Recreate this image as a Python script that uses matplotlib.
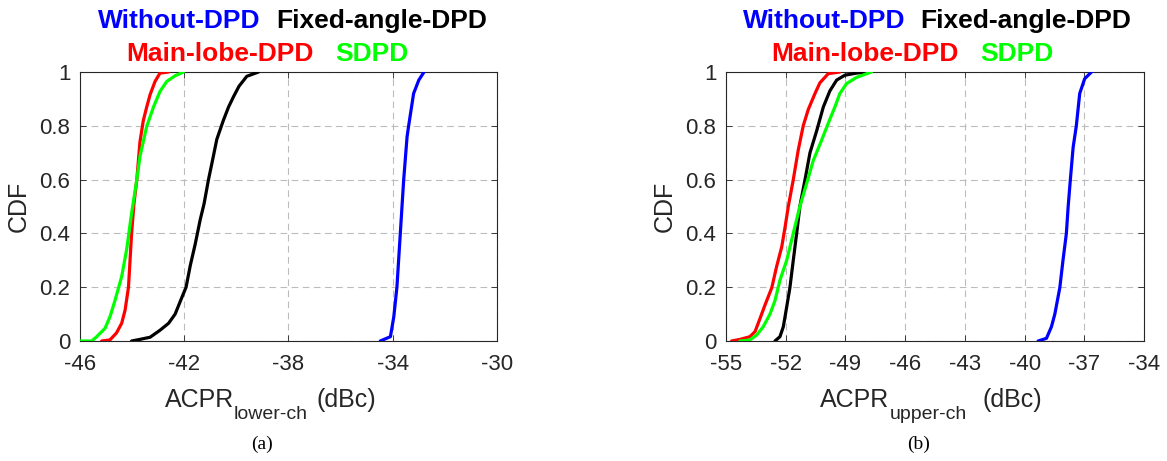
import matplotlib
matplotlib.use("Agg")
import matplotlib.pyplot as plt

plt.rcParams['font.family'] = ['Liberation Sans', 'DejaVu Sans']
plt.rcParams['axes.unicode_minus'] = False

# ---------------- data (a): ACPR lower channel ----------------
a_without_x = [-34.48, -34.09, -33.96, -33.84, -33.71, -33.58, -33.45, -33.39, -33.2, -33.0, -32.8]
a_without_y = [0.0, 0.016, 0.09, 0.2, 0.4, 0.6, 0.76, 0.8, 0.92, 0.97, 1.0]
a_fixed_x = [-44.02, -43.7, -43.31, -42.93, -42.6, -42.35, -42.1, -41.93, -41.77, -41.58, -41.39,
             -41.24, -41.07, -40.94, -40.75, -40.5, -40.3, -40.1, -39.9, -39.6, -39.15]
a_fixed_y = [0.0, 0.006, 0.014, 0.04, 0.066, 0.1, 0.16, 0.2, 0.28, 0.36, 0.45,
             0.51, 0.6, 0.66, 0.75, 0.82, 0.87, 0.91, 0.947, 0.984, 1.0]
a_main_x = [-45.17, -44.85, -44.6, -44.4, -44.27, -44.14, -44.08, -44.02, -43.93, -43.82, -43.7,
            -43.57, -43.44, -43.31, -43.12, -42.93, -42.6]
a_main_y = [0.0, 0.004, 0.03, 0.066, 0.115, 0.2, 0.3, 0.4, 0.51, 0.6, 0.74,
            0.82, 0.87, 0.916, 0.965, 0.996, 1.0]
a_sdpd_x = [-46.0, -45.55, -45.36, -45.04, -44.85, -44.66, -44.4, -44.21, -44.02, -43.82, -43.7,
            -43.44, -43.18, -42.93, -42.67, -42.35, -42.03]
a_sdpd_y = [0.0, 0.0, 0.016, 0.047, 0.09, 0.15, 0.24, 0.34, 0.475, 0.6, 0.686,
            0.798, 0.87, 0.928, 0.965, 0.986, 1.0]

# ---------------- data (b): ACPR upper channel ----------------
b_without_x = [-39.32, -38.9, -38.65, -38.48, -38.23, -38.07, -37.9, -37.81, -37.7, -37.56, -37.4,
               -37.23, -36.98, -36.64]
b_without_y = [0.0, 0.01, 0.053, 0.1, 0.198, 0.3, 0.4, 0.5, 0.6, 0.72, 0.8, 0.92, 0.975, 1.0]
b_fixed_x = [-52.54, -52.29, -52.12, -51.95, -51.79, -51.62, -51.45, -51.29, -51.03, -50.78,
             -50.45, -50.11, -49.78, -49.44, -49.03, -48.44, -47.86]
b_fixed_y = [0.0, 0.016, 0.053, 0.127, 0.198, 0.3, 0.4, 0.5, 0.6, 0.7,
             0.78, 0.87, 0.93, 0.97, 0.988, 0.996, 1.0]
b_main_x = [-54.72, -54.3, -53.8, -53.54, -53.29, -53.04, -52.7, -52.46, -52.2, -52.04, -51.87,
            -51.62, -51.37, -51.12, -50.87, -50.53, -50.28, -49.86, -49.28]
b_main_y = [0.0, 0.006, 0.016, 0.035, 0.084, 0.134, 0.198, 0.276, 0.35, 0.42, 0.5,
            0.6, 0.71, 0.8, 0.86, 0.92, 0.96, 0.994, 1.0]
b_sdpd_x = [-54.3, -53.8, -53.46, -53.13, -52.79, -52.54, -52.29, -51.95, -51.62, -51.29, -50.95,
            -50.62, -50.2, -49.86, -49.53, -49.28, -48.94, -48.44, -47.69]
b_sdpd_y = [0.0, 0.004, 0.022, 0.053, 0.1, 0.15, 0.226, 0.3, 0.4, 0.5, 0.585,
            0.67, 0.746, 0.81, 0.87, 0.92, 0.957, 0.98, 1.0]

a_xticks = [-46, -42, -38, -34, -30]
b_xticks = [-55, -52, -49, -46, -43, -40, -37, -34]
yticks = [0, 0.2, 0.4, 0.6, 0.8, 1]
ytick_labels = ['0', '0.2', '0.4', '0.6', '0.8', '1']

series_names = ['Without-DPD', 'Fixed-angle-DPD', 'Main-lobe-DPD', 'SDPD']
series_colors = ['#0000ff', '#000000', '#ff0000', '#00ff00']

W, H = 1167, 461
fig = plt.figure(figsize=(W / 100, H / 100), dpi=100)


def fx(px):
    return px / W


def fy(py):
    return 1 - py / H


axA = fig.add_axes([fx(80), fy(341), fx(417), 269 / H])
axB = fig.add_axes([fx(726), fy(341), fx(418), 269 / H])

data_a = [(a_without_x, a_without_y), (a_fixed_x, a_fixed_y), (a_main_x, a_main_y), (a_sdpd_x, a_sdpd_y)]
data_b = [(b_without_x, b_without_y), (b_fixed_x, b_fixed_y), (b_main_x, b_main_y), (b_sdpd_x, b_sdpd_y)]

spine_col = '#262626'
for ax, data, xt in [(axA, data_a, a_xticks), (axB, data_b, b_xticks)]:
    for (xs, ys), c in zip(data, series_colors):
        ax.plot(xs, ys, color=c, lw=2.3, solid_joinstyle='round', solid_capstyle='round', zorder=3)
    ax.set_xlim(xt[0], xt[-1])
    ax.set_ylim(0, 1)
    ax.set_xticks(xt)
    ax.set_xticklabels([str(v) for v in xt])
    ax.set_yticks(yticks)
    ax.set_yticklabels(ytick_labels)
    ax.grid(True, color='#bcbcbc', lw=0.8, dashes=(6, 4))
    ax.tick_params(direction='in', top=True, right=True, length=4, width=0.6,
                   colors=spine_col, labelsize=16, pad=7)
    ax.tick_params(axis='x', pad=9)
    for s in ax.spines.values():
        s.set_color(spine_col)
        s.set_linewidth(0.8)
    ax.set_ylabel('CDF', fontsize=18, color=spine_col, labelpad=6)

# legends as coloured text
leg_pos_a = [(98, 28), (276, 28), (126, 61), (335, 61)]
leg_pos_b = [(743, 28), (920, 28), (771, 61), (980, 61)]
for pos in (leg_pos_a, leg_pos_b):
    for (px, py), name, c in zip(pos, series_names, series_colors):
        fig.text(fx(px), fy(py), name, color=c, fontsize=19, fontweight='bold',
                 ha='left', va='baseline')

# x labels with subscripts
for (x0, x1, x2), sub in [((165, 234, 316), 'lower-ch'), ((820, 890, 983), 'upper-ch')]:
    fig.text(fx(x0), fy(407), 'ACPR', fontsize=18, color=spine_col, ha='left', va='baseline')
    fig.text(fx(x1), fy(419), sub, fontsize=14, color=spine_col, ha='left', va='baseline')
    fig.text(fx(x2), fy(407), '(dBc)', fontsize=18, color=spine_col, ha='left', va='baseline')

# captions
for cx, cap in [(262, '(a)'), (919, '(b)')]:
    fig.text(fx(cx), fy(449), cap, fontsize=14, family=['Liberation Serif', 'DejaVu Serif'],
             ha='center', va='baseline')

fig.savefig('out.png', dpi=100)
